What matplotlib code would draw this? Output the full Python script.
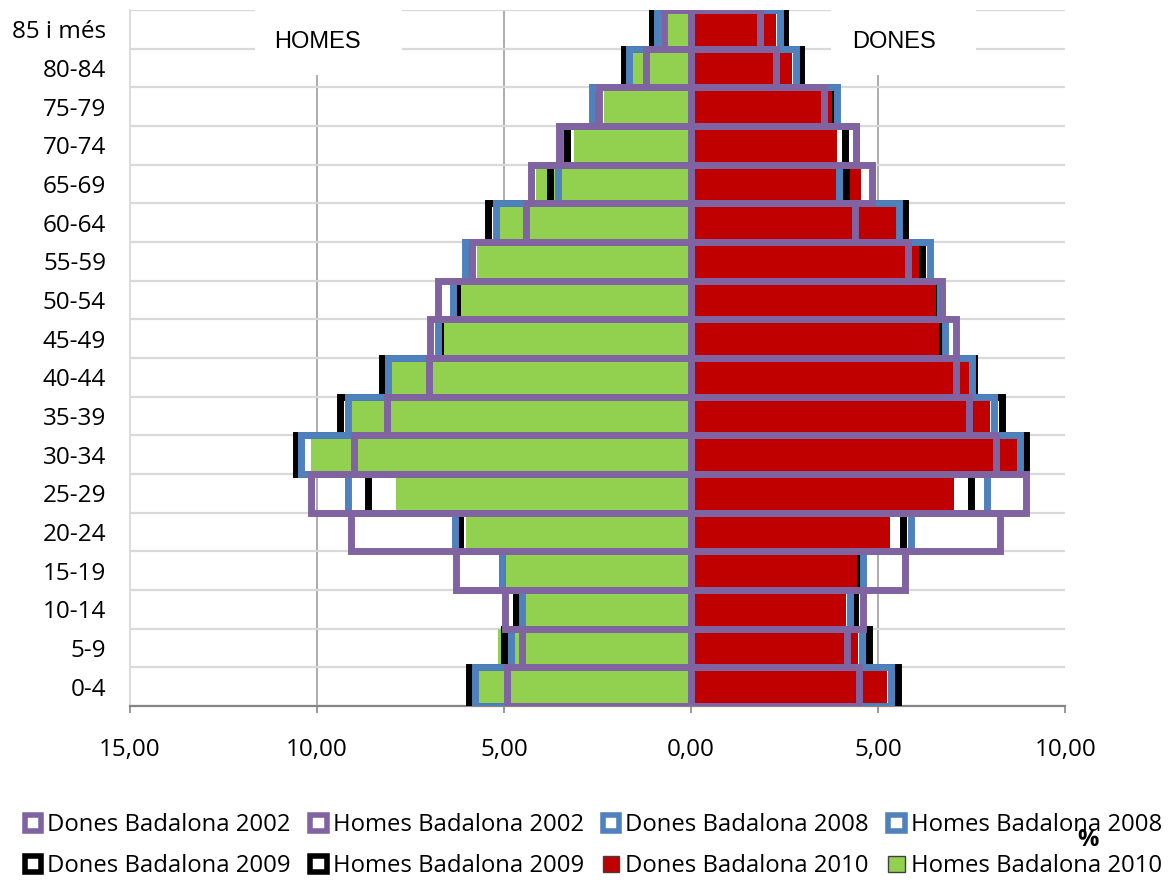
import numpy as np
import matplotlib.pyplot as plt
from matplotlib.patches import Patch, Rectangle

# age groups, bottom to top
cats = ['0-4', '5-9', '10-14', '15-19', '20-24', '25-29', '30-34', '35-39', '40-44',
        '45-49', '50-54', '55-59', '60-64', '65-69', '70-74', '75-79', '80-84', '85 i més']

# % of population, men (HOMES) and women (DONES), Badalona
homes_2002 = [4.92, 4.51, 4.96, 6.27, 9.09, 10.16, 9.00, 8.11, 7.01,
              6.97, 6.76, 5.84, 4.41, 4.27, 3.52, 2.45, 1.20, 0.71]
homes_2008 = [5.76, 4.82, 4.51, 5.06, 6.31, 9.16, 10.42, 9.17, 8.10,
              6.77, 6.37, 6.05, 5.22, 3.56, 3.50, 2.64, 1.66, 0.92]
homes_2009 = [5.92, 5.00, 4.68, 5.05, 6.16, 8.62, 10.56, 9.39, 8.27,
              6.72, 6.24, 6.00, 5.43, 3.77, 3.30, 2.62, 1.78, 1.04]
homes_2010 = [5.66, 5.15, 4.41, 4.97, 6.02, 7.88, 10.15, 9.06, 7.99,
              6.68, 6.19, 5.73, 5.13, 4.15, 3.12, 2.32, 1.55, 0.61]

dones_2002 = [4.49, 4.16, 4.60, 5.72, 8.27, 8.95, 8.14, 7.43, 7.09,
              7.08, 6.72, 5.81, 4.38, 4.85, 4.41, 3.56, 2.27, 1.85]
dones_2008 = [5.34, 4.57, 4.25, 4.60, 5.87, 7.92, 8.80, 8.10, 7.52,
              6.80, 6.66, 6.38, 5.55, 3.95, 4.40, 3.89, 2.80, 2.38]
dones_2009 = [5.52, 4.75, 4.38, 4.52, 5.67, 7.48, 8.94, 8.30, 7.57,
              6.72, 6.64, 6.18, 5.72, 4.13, 4.11, 3.85, 2.93, 2.50]
dones_2010 = [5.24, 4.47, 4.13, 4.47, 5.33, 7.04, 8.71, 8.00, 7.42,
              6.68, 6.60, 6.09, 5.80, 4.53, 3.89, 3.79, 2.71, 2.28]

xticks = [-15, -10, -5, 0, 5, 10]
xticklabels = ['15,00', '10,00', '5,00', '0,00', '5,00', '10,00']

PURPLE = '#8064A2'
BLUE = '#4F81BD'
BLACK = '#000000'
RED = '#C00000'
GREEN = '#92D050'

plt.rcParams['font.family'] = ['Open Sans', 'DejaVu Sans']

fig = plt.figure(figsize=(11.68, 8.82), dpi=100)
ax = fig.add_axes([0.111, 0.1995, 0.801, 0.789])

y = np.arange(len(cats))
neg = lambda v: -np.asarray(v)

# filled 2010 bars at the bottom, outlines of earlier years on top
ax.barh(y, neg(homes_2010), height=1.0, color=GREEN, zorder=2)
ax.barh(y, dones_2010, height=1.0, color=RED, zorder=2)

outlines = [(homes_2009, dones_2009, BLACK, 3),
            (homes_2008, dones_2008, BLUE, 4),
            (homes_2002, dones_2002, PURPLE, 5)]
for h, d, col, z in outlines:
    ax.barh(y, neg(h), height=1.0, fill=False, edgecolor=col, linewidth=5, zorder=z)
    ax.barh(y, d, height=1.0, fill=False, edgecolor=col, linewidth=5, zorder=z)

ax.set_xlim(-15, 10)
ax.set_ylim(-0.5, len(cats) - 0.5)

ax.set_xticks(xticks)
ax.set_xticklabels(xticklabels, fontsize=17.5)
ax.tick_params(axis='x', length=5, width=1.2, color='#868686', pad=18)

ax.set_yticks(y)
ax.set_yticklabels(cats, fontsize=17.5)
ax.set_yticks(np.arange(-0.5, len(cats), 1), minor=True)
ax.tick_params(axis='y', which='both', length=0, pad=17)

ax.set_axisbelow(True)
ax.grid(axis='x', color='#A6A6A6', linewidth=1.3)
ax.grid(axis='y', which='minor', color='#D9D9D9', linewidth=1.6)
for gl, v in zip(ax.get_xgridlines(), xticks):
    if v in (-15, 10):
        gl.set_visible(False)
    elif v == 0:
        gl.set_color('#BFBFBF')

for s in ['top', 'right']:
    ax.spines[s].set_visible(False)
ax.spines['left'].set_color('#D9D9D9')
ax.spines['left'].set_linewidth(1.3)
ax.spines['bottom'].set_color('#868686')
ax.spines['bottom'].set_linewidth(1.6)

# white label boxes hiding the grid
ax.add_patch(Rectangle((-11.66, 15.82), 3.93, 2.0, facecolor='white', edgecolor='none', zorder=1))
ax.add_patch(Rectangle((3.73, 15.82), 3.88, 2.0, facecolor='white', edgecolor='none', zorder=1))
ax.text(-9.98, 16.67, 'HOMES', family='Liberation Sans', fontsize=17, ha='center', va='center', zorder=1.5)
ax.text(5.42, 16.67, 'DONES', family='Liberation Sans', fontsize=17, ha='center', va='center', zorder=1.5)

# legend: row 1 = 2002/2008, row 2 = 2009/2010 (matplotlib fills column-wise)
def box(col):
    return Patch(facecolor='white', edgecolor=col, linewidth=4)

h = {
    'Dones Badalona 2002': box(PURPLE), 'Homes Badalona 2002': box(PURPLE),
    'Dones Badalona 2008': box(BLUE), 'Homes Badalona 2008': box(BLUE),
    'Dones Badalona 2009': box(BLACK), 'Homes Badalona 2009': box(BLACK),
    'Dones Badalona 2010': Patch(facecolor=RED, edgecolor='#404040', linewidth=1),
    'Homes Badalona 2010': Patch(facecolor=GREEN, edgecolor='#404040', linewidth=1),
}
order = ['Dones Badalona 2002', 'Dones Badalona 2009',
         'Homes Badalona 2002', 'Homes Badalona 2009',
         'Dones Badalona 2008', 'Dones Badalona 2010',
         'Homes Badalona 2008', 'Homes Badalona 2010']
fig.legend([h[k] for k in order], order, loc='center', bbox_to_anchor=(0.508, 0.041),
           ncol=4, frameon=False, fontsize=17.2, handlelength=0.7, handleheight=0.7,
           handletextpad=0.25, columnspacing=0.8, labelspacing=0.72)

fig.text(1088 / 1168, 1 - 840 / 882, '%', fontsize=17, fontweight='bold', ha='center', va='center')

fig.savefig('out.png', dpi=100)
